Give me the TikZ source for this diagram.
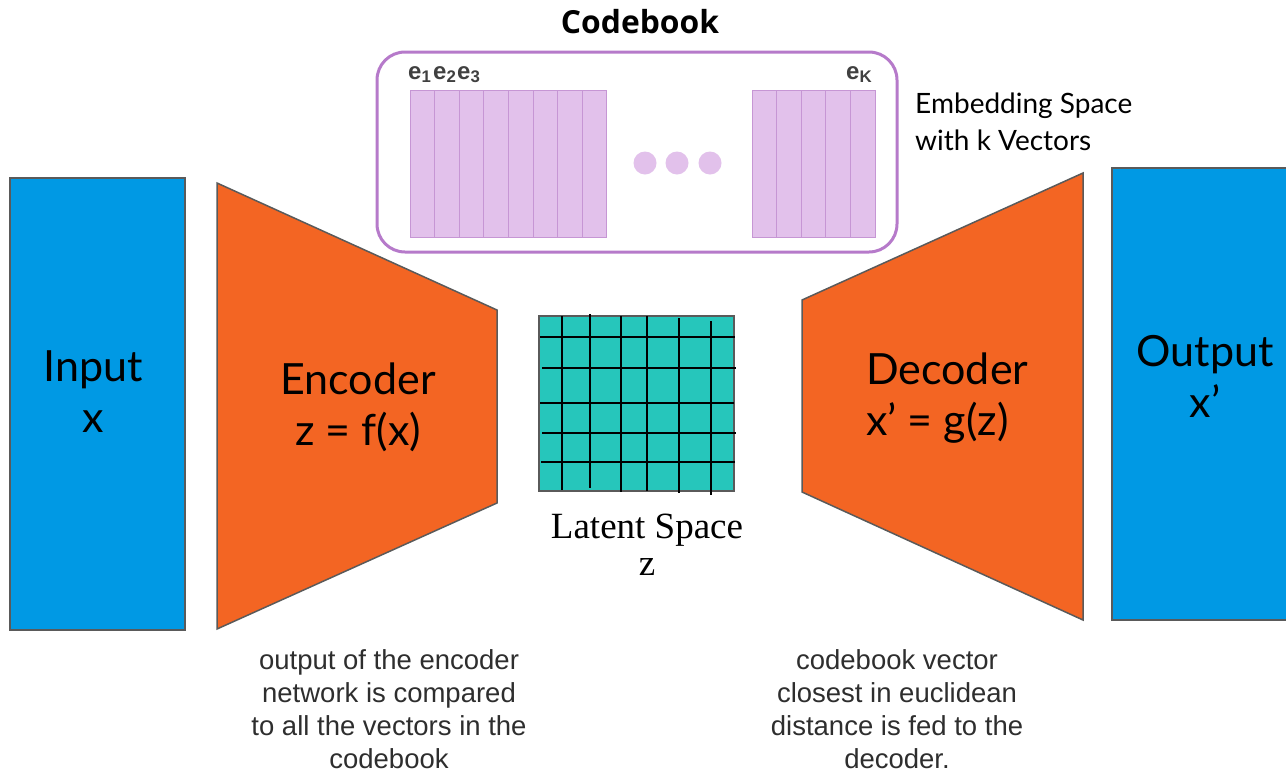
\documentclass[tikz,border=0pt]{standalone}
\usepackage{fontspec}
\setmainfont{Lato}
\newfontfamily\notefont{Liberation Sans}
\newfontfamily\headfont{Open Sans}
\newfontfamily\latentfont{Liberation Serif}
\usetikzlibrary{positioning}
\definecolor{inblue}{RGB}{0,153,228}
\definecolor{encorange}{RGB}{243,101,35}
\definecolor{gridteal}{RGB}{38,198,187}
\definecolor{cbborder}{RGB}{182,122,202}
\definecolor{cbfill}{RGB}{226,193,235}
\definecolor{cbline}{RGB}{198,150,212}
\definecolor{edgegray}{RGB}{90,90,90}
\def\colw{24.6}
\tikzstyle{data box}=[draw=edgegray, line width=1.5pt, fill=inblue]
\tikzstyle{coder}=[draw=edgegray, line width=1.5pt, fill=encorange]
\tikzstyle{big label}=[font=\fontsize{43}{51}\selectfont, align=center, inner sep=0pt]
\tikzstyle{vec label}=[font=\notefont\bfseries\fontsize{24}{24}\selectfont, text=black!75, inner sep=0pt, anchor=base west]
\tikzstyle{note}=[font=\notefont\fontsize{27.5}{33}\selectfont, text=black!82, align=center, inner sep=0pt, anchor=base]

\begin{document}
\begin{tikzpicture}[x=1pt, y=-1pt]
			\useasboundingbox (0,0) rectangle (1286,772);

			% Draw the input and output blocks
			\draw[data box] (10,178) rectangle (185,630);
			\draw[data box] (1112,168) rectangle (1295,620);
			\node[big label, anchor=base] (input) at (93,432) {Input\\x};
			\node[big label, anchor=base] (output) at (1205,417) {Output\\x’};

			% Draw the encoder and decoder
			\draw[coder] (217,183) -- (497,310) -- (497,503) -- (217,629) -- cycle;
			\draw[coder] (802,300) -- (1083,173) -- (1083,620) -- (802,492) -- cycle;
			\node[big label, anchor=base] (encoder) at (358,445) {Encoder\\z = f(x)};
			\node[big label, align=left, anchor=base west] (decoder) at (866,435) {Decoder\\x’ = g(z)};

			% Draw the codebook
			\draw[cbborder, line width=3pt, fill=white, rounded corners=28pt] (377,52) rectangle (897,252);
			\foreach \i in {0,...,7}
			\draw[cbline, fill=cbfill, line width=1pt] (410+\colw*\i,90) rectangle ++(\colw,147);
			\foreach \i in {0,...,4}
			\draw[cbline, fill=cbfill, line width=1pt] (752+\colw*\i,90) rectangle ++(\colw,147);
			\foreach \name / \x in {1/645,2/677,3/710}
			\node[circle, fill=cbfill, minimum size=23pt, inner sep=0pt] (dot-\name) at (\x,163) {};
			\foreach \name / \x in {1/408,2/433,3/457}
			\node[vec label] (e-\name) at (\x,79) {e\textsubscript{\name}};
			\node[vec label] (e-K) at (846,79) {e\textsubscript{K}};
			\node[font=\headfont\bfseries\fontsize{31.8}{32}\selectfont, inner sep=0pt, anchor=base] (codebook) at (640,33) {Codebook};
			\node[font=\fontsize{28}{37}\selectfont, align=left, inner sep=0pt, anchor=base west] (embed) at (915,150) {Embedding Space\\with k Vectors};

			% Draw the latent grid
			\draw[fill=gridteal, draw=edgegray, line width=1.5pt] (539,316) rectangle (734,491);
			\foreach \x / \ya / \yb in {562/316/490, 590/314/488, 621/316/492, 647/316/491, 679/318/493, 711/321/495}
			\draw[line width=2pt] (\x,\ya) -- (\x,\yb);
			\foreach \y / \xa / \xb in {337/540/735, 368/542/736, 403/540/734, 433/542/736, 462/541/735}
			\draw[line width=2pt] (\xa,\y) -- (\xb,\y);
			\node[font=\latentfont\fontsize{37}{37}\selectfont, align=center, inner sep=0pt, anchor=base] (latent) at (647,575) {Latent Space\\z};

			% Annotate the encoder and decoder
			\node[note] (enc note) at (389,768) {output of the encoder\\network is compared\\to all the vectors in the\\codebook};
			\node[note] (dec note) at (897,768) {codebook vector\\closest in euclidean\\distance is fed to the\\decoder.};
		\end{tikzpicture}
\end{document}
